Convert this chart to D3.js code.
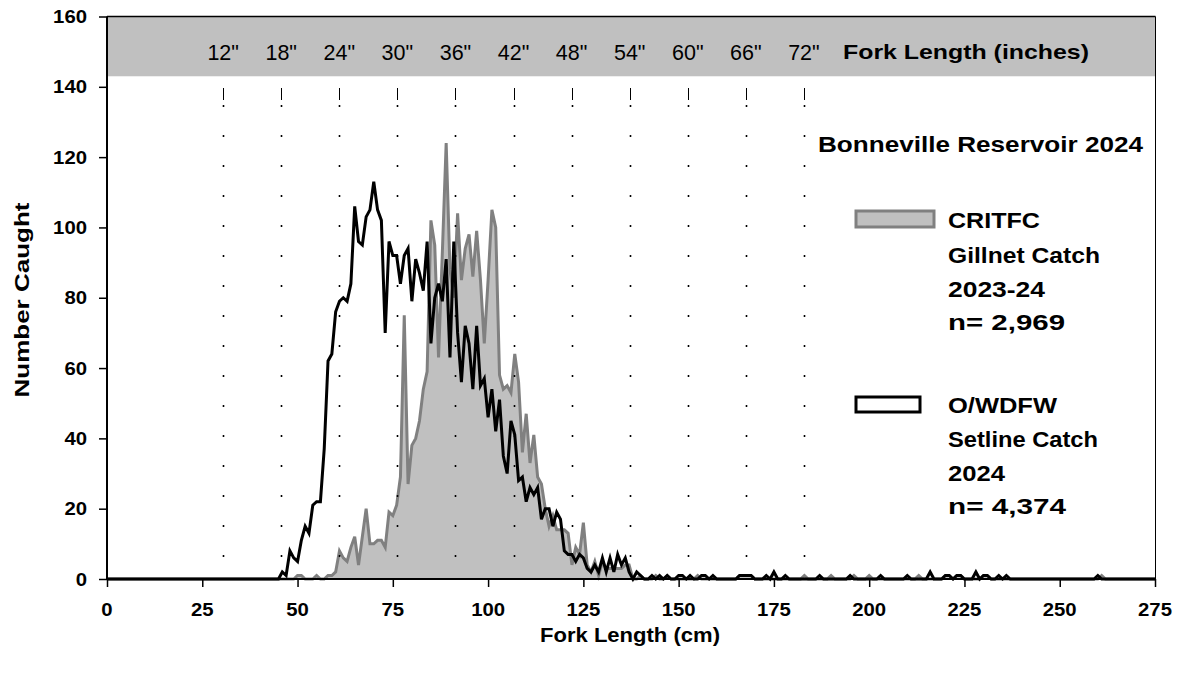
<!DOCTYPE html>
<html>
<head>
<meta charset="utf-8">
<script src="https://cdn.jsdelivr.net/npm/d3@7"></script>
<style>
  html, body { margin: 0; padding: 0; background: #fff; }
  svg { display: block; }
  text { font-family: "Liberation Sans", Arial, sans-serif; }
</style>
</head>
<body>
<svg id="chart" width="1183" height="675"></svg>
<script>
// ---------------- DATA ----------------
// Dense range of fork lengths (cm) with catch counts
const denseStartCm = 44;
// O/WDFW Setline Catch 2024, counts for 44..140 cm
const setlineCounts = [
  0, 0, 2, 1, 8, 6, 5, 11, 15, 13,        // 44-53
  21, 22, 22, 37, 62, 64, 76, 79, 80, 79, // 54-63
  84, 106, 96, 95, 103, 105, 113, 105, 102, 70, // 64-73
  96, 92, 92, 84, 92, 94, 79, 91, 87, 82, // 74-83
  96, 67, 80, 84, 79, 91, 63, 96, 70, 56, // 84-93
  72, 67, 54, 72, 55, 57, 46, 54, 42, 51, // 94-103
  35, 30, 45, 41, 28, 29, 22, 26, 24, 26, // 104-113
  17, 20, 20, 15, 19, 17, 8, 7, 7, 5,     // 114-123
  7, 6, 3, 2, 4, 2, 6, 2, 6, 2,           // 124-133
  7, 4, 6, 2, 0, 2, 1                     // 134-140
];
// CRITFC Gillnet Catch 2023-24, counts for 44..140 cm
const gillnetCounts = [
  0, 0, 0, 0, 0, 0, 1, 1, 0, 0,           // 44-53
  0, 1, 0, 0, 1, 1, 2, 8, 6, 5,           // 54-63
  9, 12, 4, 12, 20, 10, 10, 11, 11, 9,    // 64-73
  19, 18, 21, 29, 75, 27, 38, 40, 45, 54, // 74-83
  59, 102, 95, 63, 93, 124, 88, 80, 104, 85, // 84-93
  94, 98, 86, 99, 85, 67, 85, 105, 100, 58, // 94-103
  54, 55, 53, 64, 56, 36, 47, 33, 41, 29, // 104-113
  27, 20, 15, 18, 14, 14, 14, 13, 4, 9,   // 114-123
  7, 16, 4, 2, 5, 1, 5, 3, 3, 3,          // 124-133
  3, 3, 4, 4, 0, 0, 1                     // 134-140
];
// Sparse tail (> 140 cm)
const setlineTailCm    = [143, 145, 147, 150, 151, 153, 156, 157, 159, 166, 167, 168, 169, 173, 175, 178, 187, 195, 203, 210, 216, 220, 221, 223, 224, 228, 230, 231, 234, 236, 260];
const setlineTailCount = [1,   1,   1,   1,   1,   1,   1,   1,   1,   1,   1,   1,   1,   1,   2,   1,   1,   1,   1,   1,   2,   1,   1,   1,   1,   2,   1,   1,   1,   1,   1];
const gillnetTailCm    = [144, 147, 155, 166, 167, 168, 169, 183, 190, 196, 200, 213, 220, 221, 223, 224, 230, 231, 261];
const gillnetTailCount = [1,   1,   1,   1,   1,   1,   1,   1,   1,   1,   1,   1,   1,   1,   1,   1,   1,   1,   1];

const cmTicks = [0, 25, 50, 75, 100, 125, 150, 175, 200, 225, 250, 275];
const countTicks = [0, 20, 40, 60, 80, 100, 120, 140, 160];
const inchMarks = [12, 18, 24, 30, 36, 42, 48, 54, 60, 66, 72];
const inchLabels = ['12"', '18"', '24"', '30"', '36"', '42"', '48"', '54"', '60"', '66"', '72"'];
const legendCritfc = ["CRITFC", "Gillnet Catch", "2023-24", "n= 2,969"];
const legendOwdfw = ["O/WDFW", "Setline Catch", "2024", "n= 4,374"];
const bandBottom = 143;

// ------------- build full series (0..275 cm) -------------
function buildSeries(dense, tailCm, tailCount) {
  const m = new Map();
  dense.forEach((v, i) => m.set(denseStartCm + i, v));
  tailCm.forEach((c, i) => m.set(c, tailCount[i]));
  const out = [];
  for (let c = 0; c <= 275; c++) out.push({ cm: c, n: m.has(c) ? m.get(c) : 0 });
  return out;
}
const setline = buildSeries(setlineCounts, setlineTailCm, setlineTailCount);
const gillnet = buildSeries(gillnetCounts, gillnetTailCm, gillnetTailCount);

// ---------------- CHART ----------------
const svg = d3.select("#chart");
const x = d3.scaleLinear().domain([0, 275]).range([107, 1155]);
const y = d3.scaleLinear().domain([0, 160]).range([579, 16.5]);

// top band
svg.append("rect")
  .attr("x", x(0)).attr("y", y(160))
  .attr("width", x(275) - x(0)).attr("height", y(bandBottom) - y(160))
  .attr("fill", "#c0c0c0");

// gillnet area
svg.append("path")
  .datum(gillnet)
  .attr("d", d3.area().x(d => x(d.cm)).y0(y(0)).y1(d => y(d.n)))
  .attr("fill", "#c0c0c0");
svg.append("path")
  .datum(gillnet)
  .attr("d", d3.line().x(d => x(d.cm)).y(d => y(d.n)))
  .attr("fill", "none").attr("stroke", "#808080").attr("stroke-width", 3)
  .attr("stroke-linejoin", "miter");

// inch tick marks and dotted guides
const inchG = svg.append("g");
inchMarks.forEach((inch, i) => {
  const px = Math.round(x(inch * 2.54)) + 0.5;
  inchG.append("line").attr("x1", px).attr("x2", px).attr("y1", 88).attr("y2", 100)
    .attr("stroke", "#000").attr("stroke-width", 1);
  inchG.append("line").attr("x1", px).attr("x2", px).attr("y1", 105).attr("y2", 575)
    .attr("stroke", "#000").attr("stroke-width", 1.6).attr("stroke-dasharray", "2,28");
  svg.append("text")
    .attr("x", x(inch * 2.54)).attr("y", 60)
    .attr("text-anchor", "middle")
    .attr("font-size", 21.5)
    .attr("fill", "#000")
    .text(inchLabels[i]);
});

// setline line
svg.append("path")
  .datum(setline)
  .attr("d", d3.line().x(d => x(d.cm)).y(d => y(d.n)))
  .attr("fill", "none").attr("stroke", "#000").attr("stroke-width", 3)
  .attr("stroke-linejoin", "miter");

// frame (top + right)
svg.append("line").attr("x1", x(0)).attr("x2", x(275) + 0.5).attr("y1", y(160)).attr("y2", y(160))
  .attr("stroke", "#000").attr("stroke-width", 1.5);
svg.append("line").attr("x1", x(275) + 0.5).attr("x2", x(275) + 0.5).attr("y1", y(160)).attr("y2", y(0))
  .attr("stroke", "#000").attr("stroke-width", 1);

// axes
const yAxis = svg.append("g").attr("transform", `translate(${x(0)},0)`)
  .call(d3.axisLeft(y).tickValues(countTicks).tickSize(8).tickFormat(""));
const xAxis = svg.append("g").attr("transform", `translate(0,${y(0)})`)
  .call(d3.axisBottom(x).tickValues(cmTicks).tickSize(8).tickFormat(""));
[yAxis, xAxis].forEach(g => {
  g.select(".domain").attr("stroke", "#000").attr("stroke-width", 2);
  g.selectAll(".tick line").attr("stroke", "#000").attr("stroke-width", 1.5);
});
xAxis.select(".domain").attr("d", `M${x(0)},0H${x(275)}`);
yAxis.select(".domain").attr("d", `M0,${y(0)}V${y(160)}`);

const digitW = 11.3;
countTicks.forEach(v => {
  const s = String(v);
  svg.append("text")
    .attr("x", 87).attr("y", y(v) + 6.5)
    .attr("text-anchor", "end")
    .attr("font-size", 17.5).attr("font-weight", "bold")
    .attr("textLength", s.length * digitW).attr("lengthAdjust", "spacingAndGlyphs")
    .text(s);
});
cmTicks.forEach(v => {
  const s = String(v);
  svg.append("text")
    .attr("x", x(v)).attr("y", 616)
    .attr("text-anchor", "middle")
    .attr("font-size", 17.5).attr("font-weight", "bold")
    .attr("textLength", s.length * digitW).attr("lengthAdjust", "spacingAndGlyphs")
    .text(s);
});

// titles
function boldText(tx, ty, str, size, len, anchor) {
  return svg.append("text")
    .attr("x", tx).attr("y", ty)
    .attr("text-anchor", anchor || "start")
    .attr("font-size", size).attr("font-weight", "bold")
    .attr("textLength", len).attr("lengthAdjust", "spacingAndGlyphs")
    .text(str);
}
boldText(843, 59, "Fork Length (inches)", 21, 246);
boldText(818, 152, "Bonneville Reservoir 2024", 21.5, 325);
boldText(630, 642, "Fork Length (cm)", 20, 180, "middle");
svg.append("text")
  .attr("transform", "translate(29,300) rotate(-90)")
  .attr("text-anchor", "middle")
  .attr("font-size", 20).attr("font-weight", "bold")
  .attr("textLength", 195).attr("lengthAdjust", "spacingAndGlyphs")
  .text("Number Caught");

// legend
svg.append("rect").attr("x", 856).attr("y", 211).attr("width", 78).attr("height", 16)
  .attr("fill", "#c0c0c0").attr("stroke", "#808080").attr("stroke-width", 3);
svg.append("rect").attr("x", 856).attr("y", 397).attr("width", 64).attr("height", 15)
  .attr("fill", "#fff").attr("stroke", "#000").attr("stroke-width", 3);
const legW1 = [92, 152, 97, 117];
const legW2 = [109, 150, 57, 118];
const legY1 = [228, 263, 297, 330];
const legY2 = [413, 447, 481, 514];
legendCritfc.forEach((s, i) => boldText(948, legY1[i], s, 21.5, legW1[i]));
legendOwdfw.forEach((s, i) => boldText(948, legY2[i], s, 21.5, legW2[i]));
</script>
</body>
</html>
